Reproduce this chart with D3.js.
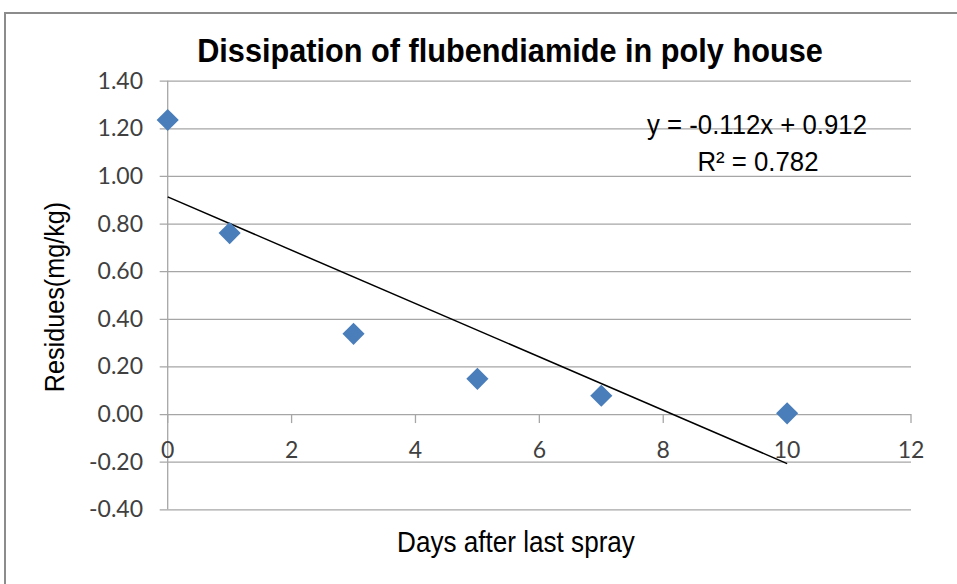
<!DOCTYPE html>
<html><head><meta charset="utf-8">
<script src="https://cdn.jsdelivr.net/npm/d3@7"></script>
<style>body{margin:0;background:#fff;overflow:hidden}</style>
</head><body>
<script>
const days = [0, 1, 3, 5, 7, 10];
const residues = [1.235, 0.76, 0.337, 0.148, 0.077, 0.003];
const slope = -0.112, intercept = 0.912;
const xTicks = [0, 2, 4, 6, 8, 10, 12];
const yTicks = [1.40, 1.20, 1.00, 0.80, 0.60, 0.40, 0.20, 0.00, -0.20, -0.40];
const titleText = "Dissipation of flubendiamide in poly house";
const xTitle = "Days after last spray";
const yTitle = "Residues(mg/kg)";
const eqText = "y = -0.112x + 0.912";
const r2Text = "R² = 0.782";

const W = 957, H = 584;
const svg = d3.select("body").append("svg").attr("width", W).attr("height", H);
svg.append("rect").attr("x", 5).attr("y", 13).attr("width", 1000).attr("height", 1000)
  .attr("fill", "#fff").attr("stroke", "#8c8c8c").attr("stroke-width", 2);

const x = d3.scaleLinear().domain([0, 12]).range([167.7, 911]);
const y = d3.scaleLinear().domain([-0.4, 1.4]).range([509.3, 80.7]);
const sans = "'Liberation Sans', Arial, sans-serif";
const tickFont = "Lato, Carlito, Calibri, sans-serif";

// gridlines
svg.append("g").selectAll("line").data(yTicks).join("line")
  .attr("x1", x(0) - 8).attr("x2", x(12))
  .attr("y1", d => y(d) + 0.5).attr("y2", d => y(d) + 0.5)
  .attr("stroke", "#a6a6a6").attr("stroke-width", 1.3);

// y axis line
svg.append("line").attr("x1", x(0)).attr("x2", x(0)).attr("y1", y(1.4)).attr("y2", y(-0.4))
  .attr("stroke", "#a6a6a6").attr("stroke-width", 1.3);

// x axis ticks at y=0
svg.append("g").selectAll("line").data(xTicks).join("line")
  .attr("x1", d => x(d)).attr("x2", d => x(d))
  .attr("y1", y(0)).attr("y2", y(0) + 9)
  .attr("stroke", "#a6a6a6").attr("stroke-width", 1.3);

const fmt = d => d3.format(".2f")(d).replace("\u2212", "-");
// y tick labels
svg.append("g").selectAll("text").data(yTicks).join("text")
  .attr("x", 143).attr("y", d => y(d) + 8)
  .attr("text-anchor", "end").attr("font-family", tickFont).attr("font-size", 23)
  .attr("fill", "#404040").text(fmt);

// x tick labels
svg.append("g").selectAll("text").data(xTicks).join("text")
  .attr("x", d => x(d)).attr("y", 458)
  .attr("text-anchor", "middle").attr("font-family", tickFont).attr("font-size", 23)
  .attr("fill", "#404040").text(d => d);

// trendline
svg.append("line")
  .attr("x1", x(0)).attr("y1", y(intercept))
  .attr("x2", x(10)).attr("y2", y(intercept + slope * 10))
  .attr("stroke", "#000").attr("stroke-width", 1.5);

// markers
const sym = d3.symbol().type(d3.symbolSquare).size(245);
svg.append("g").selectAll("path").data(days.map((d, i) => [d, residues[i]])).join("path")
  .attr("d", sym)
  .attr("transform", d => `translate(${x(d[0])},${y(d[1])}) rotate(45)`)
  .attr("fill", "#4a7ebb");

function label(tx, ty, rot, sx, size, bold, txt) {
  svg.append("g").attr("transform", `translate(${tx},${ty}) rotate(${rot}) scale(${sx},1)`)
    .append("text").attr("text-anchor", "middle").attr("font-family", sans)
    .attr("font-weight", bold ? "bold" : "normal").attr("font-size", size)
    .attr("fill", "#000").text(txt);
}
label(510, 62, 0, 0.93, 33, true, titleText);
label(757, 134, 0, 0.92, 28, false, eqText);
label(758, 171, 0, 0.92, 28, false, r2Text);
label(516, 552, 0, 0.9, 29, false, xTitle);
label(64, 297, -90, 0.9, 28, false, yTitle);
</script>
</body></html>
